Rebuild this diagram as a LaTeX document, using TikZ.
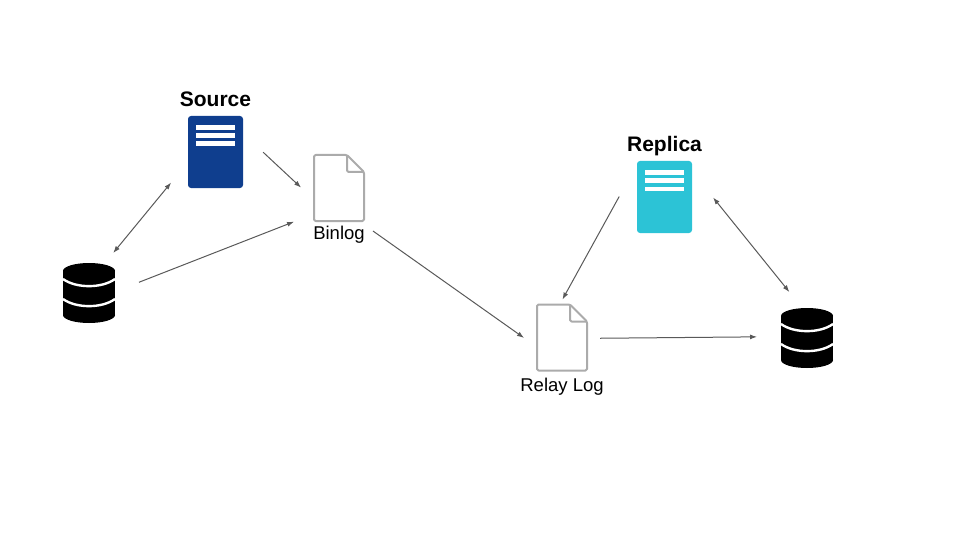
\documentclass[tikz,border=0pt]{standalone}
\usepackage{fontspec}
\setmainfont{Liberation Sans}
\usetikzlibrary{arrows.meta,positioning,calc}

\definecolor{sourceblue}{HTML}{0F3E8E}
\definecolor{replicacyan}{HTML}{2CC3D6}
\definecolor{docgray}{HTML}{ABABAB}
\definecolor{flowgray}{HTML}{595959}

\begin{document}
\begin{tikzpicture}[x=1pt, y=-1pt, >={Latex[length=7pt,width=5pt]}]
        \tikzstyle{server} = [rectangle, rounded corners=3pt, minimum width=55pt, minimum height=72pt, inner sep=0pt, outer sep=0pt]
        \tikzstyle{doc} = [rectangle, minimum width=50pt, minimum height=66pt, inner sep=0pt, outer sep=0pt]
        \tikzstyle{db} = [rectangle, minimum width=52pt, minimum height=60pt, inner sep=0pt, outer sep=0pt]
        \tikzstyle{title} = [font=\fontsize{21}{24}\selectfont\bfseries, inner sep=0pt]
        \tikzstyle{caption} = [font=\fontsize{18.5}{22}\selectfont, inner sep=0pt]
        \tikzstyle{flow} = [draw=flowgray, line width=1pt]

        \useasboundingbox (0,0) rectangle (960,540);

        \node [server, fill=sourceblue] (source) at (215.5,152) {};
        \node [server, fill=replicacyan] (replica) at (664.5,197) {};
        \node [doc] (binlog) at (339,188) {};
        \node [doc] (relay) at (562,337.5) {};
        \node [db] (leftdb) at (89,293) {};
        \node [db] (rightdb) at (807,338) {};

        \node [title, above of=source, node distance=53pt] (sourcelabel) {Source};
        \node [title, above of=replica, node distance=51pt] (replicalabel) {Replica};
        \node [caption, below of=binlog, node distance=46.5pt] (binloglabel) {Binlog};
        \node [caption, below of=relay, node distance=49.5pt] (relaylabel) {Relay Log};

        \foreach \n in {source,replica}
            \foreach \s in {-24.2,-16.2,-8.2}
                \fill [white] ($(\n.center)+(-19.5,\s-2.3)$) rectangle ++(39,4.6);

        \foreach \n in {binlog,relay} {
            \draw [docgray, line width=2pt, rounded corners=1.5pt, line join=round] (\n.south west) -- (\n.north west) -- ++(33,0) -- ++(17,17) -- (\n.south east) -- cycle;
            \draw [docgray, line width=2pt, rounded corners=1.5pt, line join=round] ($(\n.north west)+(33,0)$) -- ++(0,17) -- ++(17,0);
        }

        \foreach \n in {leftdb,rightdb} {
            \fill [black] ($(\n.center)+(0,-22)$) ellipse [x radius=26, y radius=8];
            \fill [black] ($(\n.center)+(0,22)$) ellipse [x radius=26, y radius=8];
            \fill [black] ($(\n.center)+(-26,-22)$) rectangle ($(\n.center)+(26,22)$);
            \draw [white, line width=2.4pt] ($(\n.center)+(-26,-14)$) .. controls ($(\n.center)+(-13,-4.5)$) and ($(\n.center)+(13,-4.5)$) .. ($(\n.center)+(26,-14)$);
            \draw [white, line width=2.4pt] ($(\n.center)+(-26,6)$) .. controls ($(\n.center)+(-13,15.5)$) and ($(\n.center)+(13,15.5)$) .. ($(\n.center)+(26,6)$);
        }

        \draw [flow, ->, shorten <=27.6pt, shorten >=17.7pt] (source.34.6) -- (binlog.205.6);
        \draw [flow, <->, shorten <=26.6pt, shorten >=13pt] (source.200.9) -- (leftdb.62.4);
        \draw [flow, ->, shorten <=25.7pt, shorten >=21.4pt] (leftdb.3.7) -- (binlog.226.5);
        \draw [flow, ->, shorten <=17.3pt, shorten >=15.9pt] (binlog.301.1) -- (relay.201.2);
        \draw [flow, ->, shorten <=36.9pt, shorten >=5.7pt] (replica.130.5) -- (relay.94.8);
        \draw [flow, <->, shorten <=33.6pt, shorten >=20.5pt] (replica.43.7) -- (rightdb.99.8);
        \draw [flow, ->, shorten <=13pt, shorten >=24pt] (relay.358.6) -- (rightdb.177.5);
    \end{tikzpicture}
\end{document}
